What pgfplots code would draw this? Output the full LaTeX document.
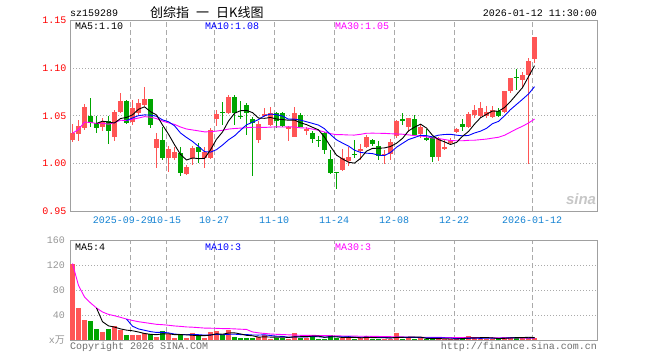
\documentclass[border=0pt]{standalone}
\usepackage{pgfplots}
\usepackage{pgfplotstable}
\pgfplotsset{compat=1.18}
\usepackage{fontspec}
\setmainfont{Liberation Sans}
\setsansfont{Liberation Sans}
\setmonofont{Liberation Mono}
\newfontfamily\cjk{Noto Sans CJK SC}
\definecolor{cred}{RGB}{255,85,85}
\definecolor{cgreen}{RGB}{0,165,0}
\definecolor{cblue}{RGB}{0,0,255}
\definecolor{cmag}{RGB}{255,0,255}
\definecolor{framec}{RGB}{160,160,160}
\definecolor{gridc}{RGB}{170,170,170}
\definecolor{datec}{RGB}{20,130,210}
\definecolor{volc}{RGB}{150,150,150}
\definecolor{footc}{RGB}{110,110,110}

% up (red) candles: index open high low close volume
\pgfplotstableread{
i o h l c v
0 1.0245 1.0414 1.0228 1.0317 122.4
1 1.0306 1.0456 1.0239 1.0396 52.0
2 1.0369 1.0621 1.0355 1.0590 32.3
5 1.0380 1.0480 1.0340 1.0440 13.1
7 1.0280 1.0560 1.0240 1.0544 22.7
8 1.0537 1.0743 1.0527 1.0659 16.3
10 1.0435 1.0667 1.0404 1.0580 8.3
11 1.0530 1.0677 1.0510 1.0635 8.3
12 1.0614 1.0800 1.0604 1.0672 11.0
14 1.0165 1.0323 0.9955 1.0257 5.6
16 1.0054 1.0183 0.9913 1.0149 9.4
17 1.0054 1.0173 1.0036 1.0120 4.0
19 0.9890 0.9983 0.9878 0.9959 4.0
20 1.0057 1.0180 0.9980 1.0159 11.0
22 1.0054 1.0173 0.9952 1.0123 4.0
23 1.0057 1.0372 1.0046 1.0351 13.1
24 1.0462 1.0561 1.0398 1.0516 14.7
26 1.0530 1.0719 1.0520 1.0701 16.3
31 1.0245 1.0446 1.0214 1.0414 5.6
32 1.0498 1.0580 1.0483 1.0520 7.7
33 1.0404 1.0596 1.0393 1.0530 2.4
36 1.0367 1.0393 1.0235 1.0378 2.4
37 1.0280 1.0596 1.0274 1.0526 12.0
39 1.0345 1.0380 1.0298 1.0357 4.0
45 0.9931 1.0149 0.9924 1.0054 3.0
46 1.0025 1.0173 0.9973 1.0070 4.0
48 1.0134 1.0204 1.0036 1.0151 4.0
49 1.0169 1.0298 1.0159 1.0280 6.7
52 1.0093 1.0140 0.9994 1.0104 2.4
53 1.0099 1.0253 1.0036 1.0228 2.4
54 1.0288 1.0456 1.0267 1.0449 12.0
56 1.0380 1.0477 1.0333 1.0474 3.5
58 1.0309 1.0404 1.0267 1.0386 3.5
61 1.0070 1.0278 1.0025 1.0257 2.4
62 1.0152 1.0246 1.0140 1.0176 1.4
63 1.0212 1.0264 1.0193 1.0245 1.4
64 1.0333 1.0375 1.0317 1.0359 1.4
66 1.0386 1.0537 1.0375 1.0516 6.7
67 1.0509 1.0614 1.0474 1.0561 3.0
68 1.0501 1.0642 1.0491 1.0579 2.4
69 1.0500 1.0607 1.0474 1.0537 2.4
70 1.0491 1.0607 1.0474 1.0561 2.4
72 1.0537 1.0764 1.0527 1.0761 5.1
73 1.0761 1.0901 1.0737 1.0895 5.1
75 1.0877 1.0964 1.0806 1.0929 3.0
76 1.0929 1.1105 0.9990 1.1076 3.5
77 1.1094 1.1332 1.1059 1.1332 3.0
}\up

% down (green) candles
\pgfplotstableread{
i o h l c v
3 1.0498 1.0690 1.0386 1.0420 30.7
4 1.0420 1.0498 1.0320 1.0375 18.4
6 1.0450 1.0500 1.0204 1.0344 18.4
9 1.0659 1.0665 1.0410 1.0428 8.3
13 1.0673 1.0677 1.0375 1.0404 9.4
15 1.0245 1.0386 1.0036 1.0054 14.7
18 1.0105 1.0170 0.9868 0.9896 9.4
21 1.0176 1.0214 1.0004 1.0123 6.7
25 1.0545 1.0649 1.0404 1.0535 7.7
27 1.0700 1.0720 1.0404 1.0533 5.6
28 1.0500 1.0659 1.0464 1.0487 4.0
29 1.0614 1.0632 1.0298 1.0527 4.0
30 1.0472 1.0488 0.9863 1.0422 4.0
34 1.0533 1.0543 1.0369 1.0449 4.0
35 1.0530 1.0543 1.0380 1.0393 4.0
38 1.0509 1.0527 1.0378 1.0388 4.0
40 1.0316 1.0340 1.0214 1.0253 8.7
41 1.0251 1.0288 1.0176 1.0240 2.4
42 1.0323 1.0333 1.0099 1.0140 2.4
43 1.0043 1.0140 0.9890 0.9903 8.3
44 0.9911 0.9915 0.9736 0.9900 4.0
47 1.0100 1.0245 1.0057 1.0089 2.4
50 1.0245 1.0256 1.0183 1.0200 2.4
51 1.0183 1.0239 1.0036 1.0078 2.4
55 1.0467 1.0527 1.0404 1.0456 2.4
57 1.0467 1.0509 1.0293 1.0298 2.4
59 1.0270 1.0359 1.0239 1.0245 1.4
60 1.0274 1.0280 1.0018 1.0070 1.4
65 1.0411 1.0464 1.0344 1.0386 5.1
71 1.0551 1.0579 1.0491 1.0500 1.4
74 1.0912 1.0989 1.0772 1.0901 5.1
}\down

% moving averages: price MA5 MA10 MA30, volume MA5 MA10 MA30
\pgfplotstableread{
i m5 m10 m30 vm5 vm10 vm30
0 nan nan 1.0317 nan nan 122.4
1 nan nan 1.0357 nan nan 87.2
2 nan nan 1.0434 nan nan 68.9
3 nan nan 1.0431 nan nan 59.4
4 1.0420 nan 1.0420 51.2 nan 51.2
5 1.0444 nan 1.0423 29.3 nan 44.8
6 1.0434 nan 1.0412 22.6 nan 41.0
7 1.0425 nan 1.0428 20.7 nan 38.8
8 1.0472 nan 1.0454 17.8 nan 36.3
9 1.0483 1.0451 1.0451 15.8 33.5 33.5
10 1.0511 1.0478 1.0463 14.8 22.1 31.2
11 1.0569 1.0502 1.0477 12.8 17.7 29.3
12 1.0595 1.0510 1.0492 10.4 15.6 27.9
13 1.0544 1.0508 1.0486 9.1 13.4 26.5
14 1.0510 1.0496 1.0471 8.5 12.1 25.1
15 1.0404 1.0458 1.0445 9.8 12.3 24.5
16 1.0307 1.0438 1.0427 10.0 11.4 23.6
17 1.0197 1.0396 1.0410 8.6 9.5 22.5
18 1.0095 1.0320 1.0383 8.6 8.8 21.8
19 1.0036 1.0273 1.0362 8.3 8.4 20.9
20 1.0057 1.0231 1.0352 7.6 8.7 20.5
21 1.0051 1.0179 1.0342 7.0 8.5 19.8
22 1.0052 1.0124 1.0332 7.0 7.8 19.1
23 1.0143 1.0119 1.0333 7.8 8.2 18.9
24 1.0254 1.0145 1.0340 9.9 9.1 18.7
25 1.0330 1.0193 1.0348 9.2 8.4 18.3
26 1.0445 1.0248 1.0361 11.2 9.1 18.2
27 1.0527 1.0290 1.0367 11.5 9.3 17.8
28 1.0554 1.0349 1.0371 9.7 8.7 17.3
29 1.0557 1.0406 1.0376 7.5 8.7 16.9
30 1.0534 1.0432 1.0380 6.8 8.0 12.9
31 1.0477 1.0461 1.0381 4.6 7.9 11.4
32 1.0474 1.0501 1.0378 5.1 8.3 10.5
33 1.0483 1.0519 1.0382 4.7 7.2 9.6
34 1.0467 1.0512 1.0384 4.7 6.1 9.1
35 1.0461 1.0498 1.0383 4.7 5.8 8.8
36 1.0454 1.0465 1.0384 4.1 4.4 8.3
37 1.0455 1.0465 1.0383 5.0 5.0 7.9
38 1.0427 1.0455 1.0374 5.3 5.0 7.5
39 1.0408 1.0438 1.0372 5.3 5.0 7.4
40 1.0380 1.0421 1.0361 6.2 5.5 7.4
41 1.0353 1.0403 1.0348 6.2 5.2 7.2
42 1.0276 1.0365 1.0330 4.3 4.6 6.9
43 1.0179 1.0303 1.0313 5.2 5.2 6.9
44 1.0087 1.0248 1.0302 5.2 5.2 6.8
45 1.0047 1.0214 1.0302 4.0 5.1 6.4
46 1.0013 1.0183 1.0299 4.3 5.3 6.2
47 1.0003 1.0139 1.0298 4.3 4.3 6.2
48 1.0053 1.0116 1.0306 3.5 4.3 6.0
49 1.0129 1.0108 1.0317 4.0 4.6 6.1
50 1.0158 1.0103 1.0318 3.9 4.0 5.8
51 1.0160 1.0087 1.0317 3.6 4.0 5.7
52 1.0163 1.0083 1.0316 3.6 4.0 5.6
53 1.0178 1.0115 1.0312 3.3 3.4 5.3
54 1.0212 1.0170 1.0310 4.3 4.2 5.2
55 1.0263 1.0211 1.0307 4.3 4.1 5.0
56 1.0342 1.0251 1.0300 4.5 4.1 4.6
57 1.0381 1.0272 1.0292 4.5 4.1 4.5
58 1.0413 1.0295 1.0289 4.8 4.0 4.4
59 1.0372 1.0292 1.0279 2.6 3.5 4.4
60 1.0295 1.0279 1.0267 2.4 3.4 4.3
61 1.0251 1.0297 1.0262 2.2 3.4 4.2
62 1.0227 1.0304 1.0251 2.0 3.3 4.0
63 1.0199 1.0306 1.0241 1.6 3.2 3.9
64 1.0221 1.0297 1.0238 1.6 2.1 3.8
65 1.0285 1.0290 1.0238 2.3 2.4 3.9
66 1.0336 1.0294 1.0243 3.2 2.7 4.0
67 1.0413 1.0320 1.0244 3.5 2.8 3.7
68 1.0480 1.0339 1.0250 3.7 2.7 3.7
69 1.0516 1.0369 1.0256 3.9 2.8 3.6
70 1.0551 1.0418 1.0266 3.4 2.9 3.4
71 1.0548 1.0442 1.0275 2.3 2.8 3.4
72 1.0588 1.0501 1.0296 2.7 3.1 3.5
73 1.0651 1.0566 1.0329 3.3 3.5 3.3
74 1.0724 1.0620 1.0362 3.8 3.9 3.4
75 1.0797 1.0674 1.0391 3.9 3.7 3.4
76 1.0912 1.0730 1.0425 4.4 3.3 3.4
77 1.1027 1.0807 1.0466 3.9 3.3 3.4
}\ma

\pgfplotsset{
  kbase/.style={
    scale only axis, anchor=south west, width=527pt,
    xmin=-0.4167, xmax=87.4167,
    axis line style={draw=framec, line width=0.9pt},
    major tick length=0pt,
    tick label style={font=\fontsize{10}{12}\selectfont\ttfamily},
    xtick={9.6,15.6,23.6,33.6,43.6,53.6,63.6,76.6},
    xmajorgrids, ymajorgrids,
    x grid style={gridc, dash pattern=on 5pt off 3pt, line width=0.9pt},
    y grid style={gridc, dash pattern=on 1pt off 2pt, line width=0.9pt},
  },
  wick/.style={only marks, mark=*, mark size=0pt, mark options={draw=none, fill=none}, forget plot,
    error bars/.cd, y dir=both, y explicit, error mark=none,
    error bar style={#1, line width=1pt, solid}},
  body/.style={only marks, mark=*, mark size=0pt, mark options={draw=none, fill=none}, forget plot,
    error bars/.cd, y dir=both, y explicit, error mark=none,
    error bar style={#1, line width=5pt, solid}},
}

\begin{document}
\begin{tikzpicture}[x=1pt,y=1pt,font=\fontsize{10}{12}\selectfont\ttfamily]
\path[use as bounding box] (0,0) rectangle (660,360);

% ---------------- price panel ----------------
\begin{axis}[kbase,
  at={(70pt,149pt)}, height=190.3pt,
  ymin=0.95, ymax=1.15,
  xticklabels={{},10-15,10-27,11-10,11-24,12-08,12-22,2026-01-12},
  xticklabel style={text=datec, yshift=-2.4pt},
  ytick={0.95,1.00,1.05,1.10,1.15},
  yticklabels={0.95,1.00,1.05,1.10,1.15},
  yticklabel style={text=red},
]
\addplot[wick=cred] table[x=i, y expr={(\thisrow{h}+\thisrow{l})/2}, y error expr={(\thisrow{h}-\thisrow{l})/2}] {\up};
\addplot[body=cred] table[x=i, y expr={(\thisrow{o}+\thisrow{c})/2}, y error expr={abs(\thisrow{c}-\thisrow{o})/2}] {\up};
\addplot[wick=cgreen] table[x=i, y expr={(\thisrow{h}+\thisrow{l})/2}, y error expr={(\thisrow{h}-\thisrow{l})/2}] {\down};
\addplot[body=cgreen] table[x=i, y expr={(\thisrow{o}+\thisrow{c})/2}, y error expr={abs(\thisrow{c}-\thisrow{o})/2}] {\down};
\addplot[cmag, line width=0.9pt, mark=none] table[x=i, y=m30] {\ma};
\addplot[cblue, line width=0.9pt, mark=none] table[x=i, y=m10] {\ma};
\addplot[black, line width=0.9pt, mark=none] table[x=i, y=m5] {\ma};
\end{axis}

% ---------------- volume panel ----------------
\begin{axis}[kbase,
  at={(70pt,20pt)}, height=100pt,
  ymin=0, ymax=160,
  xticklabels={,,,,,,,},
  ytick={0,40,80,120,160},
  yticklabels={{x\cjk 万},40,80,120,160},
  yticklabel style={text=volc, xshift=-1.7pt},
]
\addplot[ycomb, cred, line width=5pt, mark=none, forget plot] table[x=i, y=v] {\up};
\addplot[ycomb, cgreen, line width=5pt, mark=none, forget plot] table[x=i, y=v] {\down};
\addplot[cmag, line width=0.9pt, mark=none] table[x=i, y=vm30] {\ma};
\addplot[cblue, line width=0.9pt, mark=none] table[x=i, y=vm10] {\ma};
\addplot[black, line width=0.9pt, mark=none] table[x=i, y=vm5] {\ma};
\end{axis}

% ---------------- texts ----------------
\node[anchor=north, inner sep=0pt, text=datec] at (123,143.3) {2025-09-29};

\node[anchor=base west, inner sep=0pt] at (70,344) {sz159289};
\node[anchor=west, inner sep=0pt, font=\fontsize{13}{13}\selectfont\cjk] at (150,347.8)
  {创综指\hspace{7pt}一\hspace{7pt}日K线图};
\node[anchor=base east, inner sep=0pt] at (597,344) {2026-01-12 11:30:00};

\node[anchor=base west, inner sep=0pt, text=black] at (75,330.7) {MA5:1.10};
\node[anchor=base west, inner sep=0pt, text=cblue] at (205,330.7) {MA10:1.08};
\node[anchor=base west, inner sep=0pt, text=cmag] at (335,330.7) {MA30:1.05};

\node[anchor=base west, inner sep=0pt, text=black] at (75,110) {MA5:4};
\node[anchor=base west, inner sep=0pt, text=cblue] at (205,110) {MA10:3};
\node[anchor=base west, inner sep=0pt, text=cmag] at (335,110) {MA30:3};

\node[anchor=base west, inner sep=0pt, text=footc] at (70,11) {Copyright 2026 SINA.COM};
\node[anchor=base east, inner sep=0pt, text=footc] at (597,11) {http://finance.sina.com.cn};

\node[inner sep=0pt, text=black!22, font=\fontsize{15}{15}\selectfont\sffamily\bfseries\itshape] at (581,161) {sina};
\end{tikzpicture}
\end{document}
